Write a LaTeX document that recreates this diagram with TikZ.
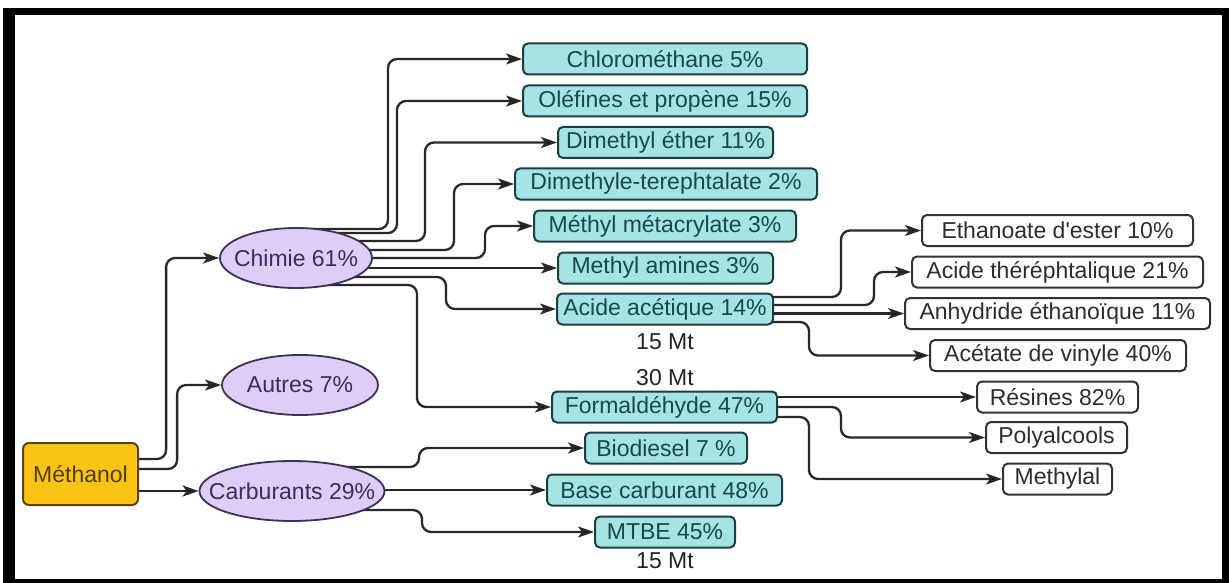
\documentclass[tikz,border=0pt]{standalone}
\usepackage{fontspec}
\setmainfont{Liberation Sans}[Ligatures=TeXOff]
\usetikzlibrary{arrows.meta,calc,shapes.geometric,backgrounds}

\definecolor{methfill}{RGB}{250,196,22}
\definecolor{methline}{RGB}{90,70,18}
\definecolor{methtext}{RGB}{80,62,8}
\definecolor{ellfill}{RGB}{222,205,246}
\definecolor{ellline}{RGB}{62,50,84}
\definecolor{elltext}{RGB}{58,44,92}
\definecolor{cyanfill}{RGB}{164,228,228}
\definecolor{cyanline}{RGB}{28,62,64}
\definecolor{cyantext}{RGB}{26,72,74}
\definecolor{wline}{RGB}{50,50,50}
\definecolor{wtext}{RGB}{45,45,45}
\definecolor{connc}{RGB}{40,40,40}
\definecolor{qtytext}{RGB}{35,35,35}

\begin{document}
\begin{tikzpicture}[x=1pt,y=-1pt,
  every node/.style={font=\fontsize{23}{27}\selectfont, inner xsep=1pt, inner ysep=0pt},
  methbox/.style={draw=methline, fill=methfill, text=methtext, rounded corners=6pt,
    line width=2pt, minimum width=115pt, minimum height=62pt},
  cbox/.style={draw=cyanline, fill=cyanfill, text=cyantext, rounded corners=5pt,
    line width=2pt, minimum height=31pt},
  wbox/.style={draw=wline, fill=white, text=wtext, rounded corners=5pt,
    line width=2pt, minimum height=31pt},
  ell/.style={ellipse, draw=ellline, fill=ellfill, text=elltext, line width=1.8pt,
    inner sep=0pt, minimum height=60pt},
  conn/.style={draw=connc, line width=2.3pt, rounded corners=9pt,
    -{Stealth[length=16pt,width=11pt,inset=4pt,fill=black]}},
  qty/.style={text=qtytext}
]
\useasboundingbox (0,0) rectangle (1229,583);

% frame
\begin{scope}[on background layer]
  \fill[white] (0,0) rectangle (1229,583);
  \fill[black] (3,8) rectangle (1229,583);
  \fill[white] (15,15) rectangle (1222,579);
\end{scope}

% source and main branches
\node[methbox] (meth) at (80.5,474) {Méthanol};
\node[ell, minimum width=152pt] (chimie) at (296,258) {\makebox[0pt]{Chimie 61\%}};
\node[ell, minimum width=156pt] (autres) at (300,385) {\makebox[0pt]{Autres 7\%}};
\node[ell, minimum width=185pt] (carb) at (292,491) {\makebox[0pt]{Carburants 29\%}};

% derived products
\node[cbox, minimum width=284pt] (chloro) at (665,59) {Chlorométhane 5\%};
\node[cbox, minimum width=284pt] (olef) at (665,101) {Oléfines et propène 15\%};
\node[cbox, minimum width=215pt] (dme) at (665.5,142.5) {Dimethyl éther 11\%};
\node[cbox, minimum width=302pt] (dmt) at (666,184) {Dimethyle-terephtalate 2\%};
\node[cbox, minimum width=262pt] (mma) at (665,226) {Méthyl métacrylate 3\%};
\node[cbox, minimum width=215pt] (amines) at (665.5,268) {Methyl amines 3\%};
\node[cbox, minimum width=216pt] (acetic) at (665,309) {Acide acétique 14\%};
\node[cbox, minimum width=225pt] (formal) at (664.5,407) {Formaldéhyde 47\%};
\node[cbox, minimum width=162pt] (biod) at (666,448) {Biodiesel 7 \%};
\node[cbox, minimum width=235pt] (base) at (664.5,490) {Base carburant 48\%};
\node[cbox, minimum width=140pt] (mtbe) at (665,532) {MTBE 45\%};

\node[qty] (q1) at (665,342) {15 Mt};
\node[qty] (q2) at (665,378) {30 Mt};
\node[qty] (q3) at (665,561) {15 Mt};

% second-level products
\node[wbox, minimum width=271pt] (ethan) at (1057.5,230.5) {Ethanoate d'ester 10\%};
\node[wbox, minimum width=291pt] (tereph) at (1057.5,272) {Acide théréphtalique 21\%};
\node[wbox, minimum width=305pt] (anhyd) at (1057.5,313.5) {Anhydride éthanoïque 11\%};
\node[wbox, minimum width=256pt] (vinyl) at (1058,355.5) {Acétate de vinyle 40\%};
\node[wbox, minimum width=161pt] (resin) at (1057.5,397) {Résines 82\%};
\node[wbox, minimum width=141pt] (polyal) at (1056.5,437.5) {Polyalcools};
\node[wbox, minimum width=109pt] (mlal) at (1057.5,479) {Methylal};

% connectors
\begin{scope}[on background layer]
  % Méthanol
  \draw[conn] ($(meth.east)+(0,-15)$) -| ($(chimie.west)+(-53,0)$) -- (chimie.west);
  \draw[conn] ($(meth.east)+(0,-5)$) -| ($(autres.west)+(-44,0)$) -- (autres.west);
  \draw[conn] (meth.east |- carb.west) -- (carb.west);
  % Chimie
  \draw[conn] ($(chimie.center)+(10,-29)$) -| ($(chloro.west)+(-134,0)$) -- (chloro.west);
  \draw[conn] ($(chimie.center)+(10,-25)$) -| ($(olef.west)+(-125,0)$) -- (olef.west);
  \draw[conn] ($(chimie.center)+(10,-17)$) -| ($(dme.west)+(-132,0)$) -- (dme.west);
  \draw[conn] ($(chimie.center)+(10,-8)$) -| ($(dmt.west)+(-60,0)$) -- (dmt.west);
  \draw[conn] ($(chimie.center)+(10,0)$) -| ($(mma.west)+(-48,0)$) -- (mma.west);
  \draw[conn] (chimie.center |- amines.west) -- (amines.west);
  \draw[conn] ($(chimie.center)+(10,19)$) -| ($(acetic.west)+(-110,0)$) -- (acetic.west);
  \draw[conn] ($(chimie.center)+(10,27)$) -| ($(formal.west)+(-134,0)$) -- (formal.west);
  % Carburants
  \draw[conn] ($(carb.center)+(10,-24)$) -| ($(biod.west)+(-165,0)$) -- (biod.west);
  \draw[conn] (carb.center |- base.west) -- (base.west);
  \draw[conn] ($(carb.center)+(10,19)$) -| ($(mtbe.west)+(-172,0)$) -- (mtbe.west);
  % Acide acétique
  \draw[conn] ($(acetic.east)+(-3,-12)$) -| ($(ethan.west)+(-80,0)$) -- (ethan.west);
  \draw[conn] ($(acetic.east)+(-3,-4)$) -| ($(tereph.west)+(-37,0)$) -- (tereph.west);
  \draw[conn] ([xshift=-3pt]acetic.east |- anhyd.west) -- (anhyd.west);
  \draw[conn] ($(acetic.east)+(-3,13)$) -| ($(vinyl.west)+(-120,0)$) -- (vinyl.west);
  % Formaldéhyde
  \draw[conn] ([xshift=-3pt]formal.east |- resin.west) -- (resin.west);
  \draw[conn] ($(formal.east)+(-3,0)$) -| ($(polyal.west)+(-144,0)$) -- (polyal.west);
  \draw[conn] ($(formal.east)+(-3,10)$) -| ($(mlal.west)+(-193,0)$) -- (mlal.west);
\end{scope}
\end{tikzpicture}
\end{document}
